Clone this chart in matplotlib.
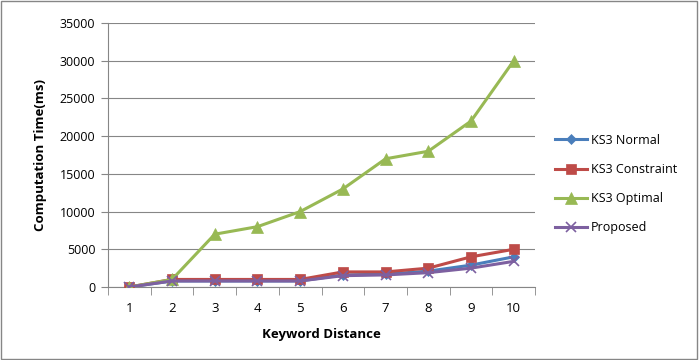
import matplotlib
matplotlib.use("Agg")

import matplotlib.pyplot as plt
from matplotlib.patches import Rectangle
import numpy as np


distance = [1, 2, 3, 4, 5, 6, 7, 8, 9, 10]
ks3_normal = [0, 800, 800, 800, 800, 1600, 1700, 2100, 2900, 4000]
ks3_constraint = [0, 1000, 1000, 1000, 1000, 2000, 2000, 2500, 4000, 5000]
ks3_optimal = [0, 1000, 7000, 8000, 10000, 13000, 17000, 18000, 22000, 30000]
proposed = [0, 800, 800, 800, 800, 1500, 1600, 1900, 2500, 3400]
y_ticks = [0, 5000, 10000, 15000, 20000, 25000, 30000, 35000]

plt.rcParams["font.family"] = ["Open Sans", "DejaVu Sans"]

fig = plt.figure(figsize=(6.99, 3.6), dpi=100)
ax = fig.add_axes([0.1545, 0.2028, 0.611, 0.7332])

x = np.arange(1, len(distance) + 1)
series = [
    ("KS3 Normal", ks3_normal, "#4A7EBB", "D", 5),
    ("KS3 Constraint", ks3_constraint, "#BE4B48", "s", 7),
    ("KS3 Optimal", ks3_optimal, "#98B954", "^", 8),
    ("Proposed", proposed, "#7D60A0", "x", 7),
]
for label, vals, color, marker, ms in series:
    ax.plot(x, vals, color=color, linewidth=2.2, marker=marker, markersize=ms,
            markeredgewidth=1.2 if marker == "x" else 0.5, markeredgecolor=color,
            label=label, zorder=3)

ax.set_xlim(0.5, len(distance) + 0.5)
ax.set_ylim(0, 35000)
ax.set_yticks(y_ticks)
ax.set_xticks(x)
ax.set_xticklabels([str(d) for d in distance])
ax.set_xticks(np.arange(0.5, len(distance) + 1, 1.0), minor=True)
ax.tick_params(axis="x", which="major", length=0, labelsize=9.5, pad=11)
ax.tick_params(axis="x", which="minor", length=6, color="#868686", direction="out")
ax.tick_params(axis="y", length=5, color="#868686", labelsize=9, pad=4)
ax.grid(axis="y", color="#868686", linewidth=0.8)
ax.set_axisbelow(True)
for side in ["top", "right"]:
    ax.spines[side].set_visible(False)
for side in ["left", "bottom"]:
    ax.spines[side].set_color("#868686")

ax.set_xlabel("Keyword Distance", fontsize=9.5, fontweight="bold", labelpad=9)
ax.set_ylabel("Computation Time(ms)", fontsize=9.5, fontweight="bold", labelpad=9)

ax.legend(loc="center left", bbox_to_anchor=(1.02, 0.39), frameon=False,
          fontsize=9, handlelength=2.6, labelspacing=1.3, handletextpad=0.3)

fig.patches.append(Rectangle((0.002, 0.003), 0.995, 0.994, transform=fig.transFigure,
                             fill=False, edgecolor="#868686", linewidth=1.0))

fig.savefig("out.png", dpi=100)
